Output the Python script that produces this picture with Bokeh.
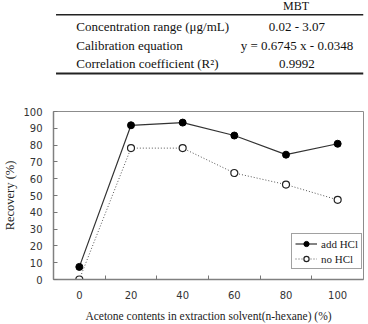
from bokeh.plotting import figure
from bokeh.layouts import column
from bokeh.models import ColumnDataSource, FixedTicker, Legend, LegendItem, Range1d
from bokeh.core.properties import value
from bokeh.embed import file_html
from bokeh.resources import INLINE

# ---- table data ----
table_header = "MBT"
table_labels = ["Concentration range (μg/mL)", "Calibration equation", "Correlation coefficient (R²)"]
table_values = ["0.02 - 3.07", "y = 0.6745 x - 0.0348", "0.9992"]

# ---- chart data ----
acetone = [0, 20, 40, 60, 80, 100]
add_hcl = [7.5, 91.8, 93.4, 85.7, 74.3, 80.8]
no_hcl = [0.0, 78.2, 78.2, 63.4, 56.5, 47.4]
y_ticks = [0, 10, 20, 30, 40, 50, 60, 70, 80, 90, 100]

SERIF = "Liberation Serif"
SANS = "DejaVu Sans"

# ---------- table figure ----------
W = 368
TH = 95
t = figure(width=W, height=TH, output_backend="svg", toolbar_location=None,
           x_range=Range1d(0, W), y_range=Range1d(TH, 0),
           min_border=0, outline_line_color=None)
t.axis.visible = False
t.grid.visible = False

row_y = [26 + i * 18.5 for i in range(len(table_labels))]
t.text(x=[27] * len(table_labels), y=row_y, text=table_labels,
       text_font=value(SERIF), text_font_size="13px", text_baseline="middle",
       text_align="left", text_color="#111111")
t.text(x=[289] * len(table_values), y=row_y, text=table_values,
       text_font=value(SERIF), text_font_size="13px", text_baseline="middle",
       text_align="center", text_color="#111111")
t.text(x=[288], y=[5], text=[table_header], text_font=value(SERIF),
       text_font_size="12px", text_baseline="middle", text_align="center",
       text_color="#111111")
t.segment(x0=[3, 3], y0=[14.3, 73], x1=[W, W], y1=[14.3, 73],
          line_color="#222222", line_width=[1.5, 2])

# ---------- chart figure ----------
p = figure(width=W, height=229, output_backend="svg", toolbar_location=None,
           x_range=Range1d(-10, 110), y_range=Range1d(0, 100),
           min_border_left=48, min_border_right=5, min_border_top=16,
           min_border_bottom=45, outline_line_color="#8c8c8c", outline_line_width=1)
p.grid.visible = False

src = ColumnDataSource(dict(x=acetone, a=add_hcl, n=no_hcl))

l1 = p.line("x", "a", source=src, line_color="#333333", line_width=1.2)
s1 = p.scatter("x", "a", source=src, size=7, fill_color="black", line_color="black")
l2 = p.line("x", "n", source=src, line_color="#555555", line_width=1.0, line_dash="1 2")
s2 = p.scatter("x", "n", source=src, size=7, fill_color="white", line_color="#222222",
               line_width=1.2)

xa = p.xaxis[0]
xa.ticker = FixedTicker(ticks=acetone, minor_ticks=[10, 30, 50, 70, 90])
xa.major_tick_in = 0
xa.major_tick_out = 0
xa.minor_tick_in = 4
xa.minor_tick_out = 0
xa.minor_tick_line_color = "#777777"
xa.axis_line_color = "#808080"
xa.axis_line_width = 1.5
xa.major_label_standoff = 11
xa.major_label_text_font = SANS
xa.major_label_text_font_size = "10px"
xa.major_label_text_color = "#333333"
xa.axis_label = "Acetone contents in extraction solvent(n-hexane) (%)"
xa.axis_label_text_font = SERIF
xa.axis_label_text_font_style = "normal"
xa.axis_label_text_font_size = "11.5px"
xa.axis_label_text_color = "#222222"
xa.axis_label_standoff = 8

ya = p.yaxis[0]
ya.ticker = FixedTicker(ticks=y_ticks)
ya.major_tick_in = 4
ya.major_tick_out = 0
ya.minor_tick_in = 0
ya.minor_tick_out = 0
ya.major_tick_line_color = "#777777"
ya.axis_line_color = "#808080"
ya.axis_line_width = 1.5
ya.major_label_standoff = 11
ya.major_label_text_font = SANS
ya.major_label_text_font_size = "10px"
ya.major_label_text_color = "#333333"
ya.axis_label = "Recovery (%)"
ya.axis_label_text_font = SERIF
ya.axis_label_text_font_style = "normal"
ya.axis_label_text_font_size = "12.5px"
ya.axis_label_text_color = "#222222"
ya.axis_label_standoff = 3

legend = Legend(items=[LegendItem(label="add HCl", renderers=[l1, s1]),
                       LegendItem(label="no HCl", renderers=[l2, s2])],
                location=(238, 10), orientation="vertical",
                label_text_font=SERIF, label_text_font_size="11px",
                label_text_color="#222222",
                glyph_width=22, glyph_height=13, label_height=13,
                label_standoff=4, spacing=2, padding=3, margin=0,
                border_line_color="#444444", border_line_width=1,
                background_fill_color="white", background_fill_alpha=1)
p.add_layout(legend, "center")

layout = column(t, p, spacing=0)
open("out.html", "w").write(file_html(layout, INLINE))
